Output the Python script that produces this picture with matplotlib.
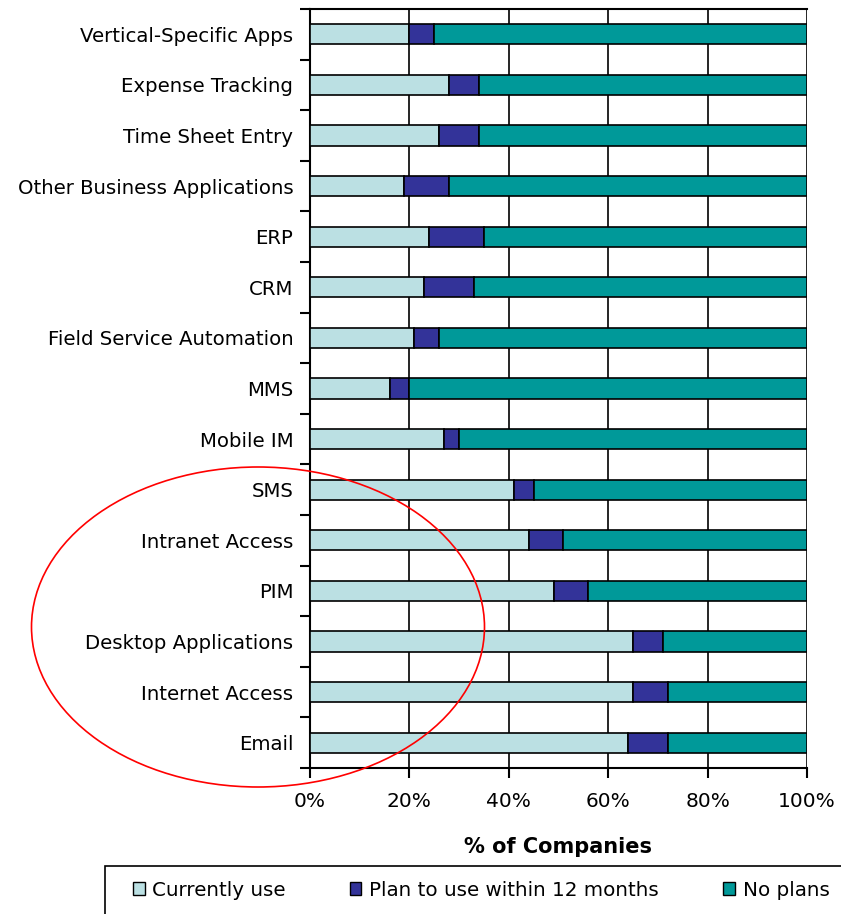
import matplotlib.pyplot as plt
from matplotlib.patches import Ellipse, Rectangle, Patch

categories = [
    "Email", "Internet Access", "Desktop Applications", "PIM", "Intranet Access",
    "SMS", "Mobile IM", "MMS", "Field Service Automation", "CRM", "ERP",
    "Other Business Applications", "Time Sheet Entry", "Expense Tracking",
    "Vertical-Specific Apps",
]
currently_use = [64, 65, 65, 49, 44, 41, 27, 16, 21, 23, 24, 19, 26, 28, 20]
plan_12_months = [8, 7, 6, 7, 7, 4, 3, 4, 5, 10, 11, 9, 8, 6, 5]
no_plans = [100 - c - p for c, p in zip(currently_use, plan_12_months)]

series = [
    ("Currently use", currently_use, "#BBE0E3"),
    ("Plan to use within 12 months", plan_12_months, "#333399"),
    ("No plans", no_plans, "#009999"),
]

plt.rcParams["font.family"] = "DejaVu Sans"

fig = plt.figure(figsize=(8.41, 9.14), dpi=100)
ax = fig.add_axes([310 / 841, 1 - 768 / 914, 497 / 841, 759 / 914])

y = list(range(len(categories)))
left = [0] * len(categories)
for name, vals, color in series:
    ax.barh(y, vals, left=left, height=0.4, color=color, edgecolor="black",
            linewidth=1.2, label=name, zorder=3)
    left = [l + v for l, v in zip(left, vals)]

ax.set_xlim(0, 100)
ax.set_ylim(-0.5, len(categories) - 0.5)
ax.set_xticks([0, 20, 40, 60, 80, 100])
ax.set_xticklabels(["0%", "20%", "40%", "60%", "80%", "100%"], fontsize=14.5)
ax.set_yticks(y)
ax.set_yticklabels(categories, fontsize=14.2)
ax.set_yticks([i - 0.5 for i in range(len(categories) + 1)], minor=True)
ax.tick_params(axis="y", which="major", length=0, pad=12)
ax.tick_params(axis="y", which="minor", length=7, width=1.5)
ax.tick_params(axis="x", length=7, width=1.5, pad=10)
ax.grid(axis="x", color="black", linewidth=1.2, zorder=0)
for s in ["left", "bottom", "top"]:
    ax.spines[s].set_linewidth(1.5)
ax.spines["right"].set_visible(False)
ax.set_xlabel("% of Companies", fontsize=15, fontweight="bold", labelpad=19)

fig.add_artist(Ellipse((258 / 841, 1 - 627 / 914), 453 / 841, 320 / 914,
                       transform=fig.transFigure, fill=False,
                       edgecolor="red", linewidth=1.2))

fig.add_artist(Rectangle((105 / 841, -0.01), 0.9, 1 - 866 / 914 + 0.01,
                         transform=fig.transFigure, fill=False,
                         edgecolor="black", linewidth=1.2))
handles = [Patch(facecolor=c, edgecolor="black", label=n) for n, _, c in series]
fig.legend(handles=handles, loc="center", bbox_to_anchor=(481 / 841, 1 - 890 / 914),
           ncol=3, frameon=False, fontsize=14.3, handlelength=0.6, handleheight=0.6,
           handletextpad=0.4, columnspacing=3.2, borderpad=0)

fig.savefig("out.png", dpi=100)
